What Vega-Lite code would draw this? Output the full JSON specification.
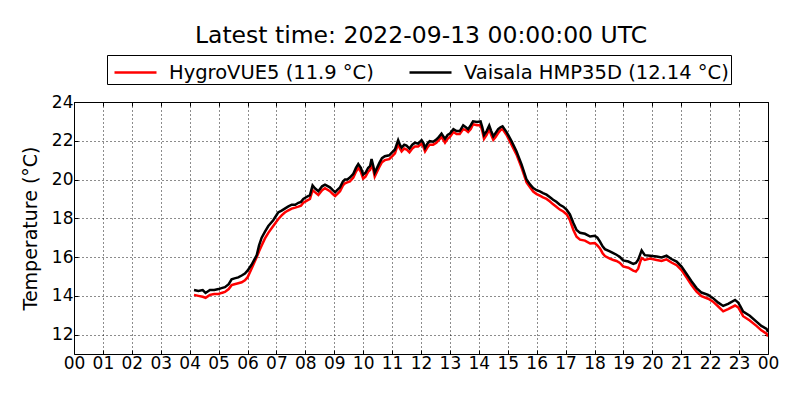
{
  "$schema": "https://vega.github.io/schema/vega-lite/v6.json",
  "autosize": {"type": "none"},
  "padding": {"left": 74, "top": 102, "right": 32, "bottom": 46},
  "width": 694,
  "height": 252,
  "title": {
    "text": "Latest time: 2022-09-13 00:00:00 UTC",
    "font": "DejaVu Sans",
    "fontSize": 23.5,
    "fontWeight": "normal",
    "color": "black",
    "anchor": "middle",
    "offset": 7
  },
  "data": {
    "values": [
      {"h": 4.15, "vaisala": 14.3, "hygro": 14.05},
      {"h": 4.3, "vaisala": 14.25, "hygro": 14.0},
      {"h": 4.45, "vaisala": 14.3, "hygro": 13.95},
      {"h": 4.55, "vaisala": 14.15, "hygro": 13.9},
      {"h": 4.7, "vaisala": 14.3, "hygro": 14.05},
      {"h": 4.85, "vaisala": 14.3, "hygro": 14.1},
      {"h": 5.0, "vaisala": 14.35, "hygro": 14.1},
      {"h": 5.1, "vaisala": 14.4, "hygro": 14.15},
      {"h": 5.22, "vaisala": 14.45, "hygro": 14.2},
      {"h": 5.35, "vaisala": 14.6, "hygro": 14.35},
      {"h": 5.45, "vaisala": 14.85, "hygro": 14.55},
      {"h": 5.55, "vaisala": 14.9, "hygro": 14.6},
      {"h": 5.68, "vaisala": 14.95, "hygro": 14.65},
      {"h": 5.8, "vaisala": 15.05, "hygro": 14.7},
      {"h": 5.91, "vaisala": 15.15, "hygro": 14.8},
      {"h": 6.0, "vaisala": 15.3, "hygro": 14.95},
      {"h": 6.14, "vaisala": 15.6, "hygro": 15.4},
      {"h": 6.32, "vaisala": 16.1, "hygro": 16.0},
      {"h": 6.4, "vaisala": 16.6, "hygro": 16.3},
      {"h": 6.49, "vaisala": 17.0, "hygro": 16.6},
      {"h": 6.6, "vaisala": 17.3, "hygro": 16.95},
      {"h": 6.72, "vaisala": 17.6, "hygro": 17.25},
      {"h": 6.89, "vaisala": 17.9, "hygro": 17.6},
      {"h": 7.06, "vaisala": 18.3, "hygro": 17.95},
      {"h": 7.18, "vaisala": 18.4, "hygro": 18.15},
      {"h": 7.29, "vaisala": 18.5, "hygro": 18.3},
      {"h": 7.4, "vaisala": 18.6, "hygro": 18.4},
      {"h": 7.53, "vaisala": 18.7, "hygro": 18.5},
      {"h": 7.65, "vaisala": 18.7, "hygro": 18.55},
      {"h": 7.76, "vaisala": 18.8, "hygro": 18.6},
      {"h": 7.85, "vaisala": 18.85, "hygro": 18.65},
      {"h": 7.93, "vaisala": 19.0, "hygro": 18.8},
      {"h": 8.04, "vaisala": 19.1, "hygro": 18.9},
      {"h": 8.16, "vaisala": 19.2, "hygro": 19.0},
      {"h": 8.25, "vaisala": 19.7, "hygro": 19.45},
      {"h": 8.33, "vaisala": 19.55, "hygro": 19.35},
      {"h": 8.45, "vaisala": 19.4, "hygro": 19.2},
      {"h": 8.58, "vaisala": 19.65, "hygro": 19.45},
      {"h": 8.68, "vaisala": 19.74, "hygro": 19.55},
      {"h": 8.85, "vaisala": 19.6, "hygro": 19.4},
      {"h": 8.95, "vaisala": 19.45, "hygro": 19.25},
      {"h": 9.03, "vaisala": 19.34, "hygro": 19.15},
      {"h": 9.1, "vaisala": 19.45, "hygro": 19.25},
      {"h": 9.2, "vaisala": 19.6, "hygro": 19.4},
      {"h": 9.3, "vaisala": 19.9, "hygro": 19.7},
      {"h": 9.37, "vaisala": 20.0, "hygro": 19.8},
      {"h": 9.45, "vaisala": 20.0, "hygro": 19.85},
      {"h": 9.54, "vaisala": 20.1, "hygro": 19.9},
      {"h": 9.66, "vaisala": 20.3, "hygro": 20.1},
      {"h": 9.75, "vaisala": 20.6, "hygro": 20.4},
      {"h": 9.83, "vaisala": 20.8, "hygro": 20.6},
      {"h": 9.92, "vaisala": 20.6, "hygro": 20.4},
      {"h": 10.0, "vaisala": 20.25, "hygro": 20.05},
      {"h": 10.08, "vaisala": 20.35, "hygro": 20.15},
      {"h": 10.17, "vaisala": 20.6, "hygro": 20.4},
      {"h": 10.24, "vaisala": 20.7, "hygro": 20.5},
      {"h": 10.29, "vaisala": 21.06, "hygro": 20.85},
      {"h": 10.35, "vaisala": 20.7, "hygro": 20.5},
      {"h": 10.4, "vaisala": 20.35, "hygro": 20.15},
      {"h": 10.48, "vaisala": 20.6, "hygro": 20.4},
      {"h": 10.56, "vaisala": 20.86, "hygro": 20.65},
      {"h": 10.65, "vaisala": 21.1, "hygro": 20.9},
      {"h": 10.75, "vaisala": 21.2, "hygro": 21.0},
      {"h": 10.9, "vaisala": 21.25, "hygro": 21.05},
      {"h": 11.0, "vaisala": 21.4, "hygro": 21.2},
      {"h": 11.1, "vaisala": 21.55, "hygro": 21.35},
      {"h": 11.21, "vaisala": 22.03, "hygro": 21.85},
      {"h": 11.27, "vaisala": 21.8, "hygro": 21.6},
      {"h": 11.33, "vaisala": 21.65, "hygro": 21.45},
      {"h": 11.42, "vaisala": 21.8, "hygro": 21.6},
      {"h": 11.5, "vaisala": 21.75, "hygro": 21.55},
      {"h": 11.6, "vaisala": 21.6, "hygro": 21.4},
      {"h": 11.7, "vaisala": 21.8, "hygro": 21.6},
      {"h": 11.79, "vaisala": 21.9, "hygro": 21.7},
      {"h": 11.9, "vaisala": 21.85, "hygro": 21.7},
      {"h": 12.02, "vaisala": 22.03, "hygro": 21.85},
      {"h": 12.08, "vaisala": 21.9, "hygro": 21.7},
      {"h": 12.14, "vaisala": 21.63, "hygro": 21.45},
      {"h": 12.22, "vaisala": 21.85, "hygro": 21.65},
      {"h": 12.3, "vaisala": 21.98, "hygro": 21.8},
      {"h": 12.42, "vaisala": 21.95, "hygro": 21.8},
      {"h": 12.53, "vaisala": 22.06, "hygro": 21.9},
      {"h": 12.62, "vaisala": 22.2, "hygro": 22.05},
      {"h": 12.71, "vaisala": 22.37, "hygro": 22.2},
      {"h": 12.83, "vaisala": 22.1, "hygro": 21.9},
      {"h": 12.92, "vaisala": 22.3, "hygro": 22.1},
      {"h": 13.0, "vaisala": 22.37, "hygro": 22.2},
      {"h": 13.12, "vaisala": 22.6, "hygro": 22.45},
      {"h": 13.23, "vaisala": 22.5, "hygro": 22.35},
      {"h": 13.34, "vaisala": 22.5, "hygro": 22.35},
      {"h": 13.46, "vaisala": 22.8, "hygro": 22.6},
      {"h": 13.55, "vaisala": 22.7, "hygro": 22.55},
      {"h": 13.63, "vaisala": 22.6, "hygro": 22.45},
      {"h": 13.72, "vaisala": 22.8, "hygro": 22.6},
      {"h": 13.8, "vaisala": 23.0, "hygro": 22.85},
      {"h": 13.94, "vaisala": 22.97, "hygro": 22.8},
      {"h": 14.06, "vaisala": 23.0, "hygro": 22.8},
      {"h": 14.12, "vaisala": 22.7, "hygro": 22.5},
      {"h": 14.18, "vaisala": 22.3, "hygro": 22.1},
      {"h": 14.27, "vaisala": 22.5, "hygro": 22.3},
      {"h": 14.36, "vaisala": 22.79, "hygro": 22.6},
      {"h": 14.43, "vaisala": 22.5, "hygro": 22.3},
      {"h": 14.5, "vaisala": 22.23, "hygro": 22.05},
      {"h": 14.58, "vaisala": 22.4, "hygro": 22.2},
      {"h": 14.67, "vaisala": 22.6, "hygro": 22.4},
      {"h": 14.75, "vaisala": 22.7, "hygro": 22.55},
      {"h": 14.82, "vaisala": 22.75, "hygro": 22.6},
      {"h": 14.96, "vaisala": 22.45, "hygro": 22.3},
      {"h": 15.13, "vaisala": 21.98, "hygro": 21.8},
      {"h": 15.3, "vaisala": 21.46, "hygro": 21.3},
      {"h": 15.48, "vaisala": 20.77, "hygro": 20.6},
      {"h": 15.65, "vaisala": 20.0, "hygro": 19.85},
      {"h": 15.77, "vaisala": 19.75, "hygro": 19.6},
      {"h": 15.88, "vaisala": 19.56, "hygro": 19.38},
      {"h": 16.0, "vaisala": 19.45, "hygro": 19.25},
      {"h": 16.11, "vaisala": 19.39, "hygro": 19.17},
      {"h": 16.22, "vaisala": 19.3, "hygro": 19.08},
      {"h": 16.34, "vaisala": 19.22, "hygro": 19.0},
      {"h": 16.45, "vaisala": 19.1, "hygro": 18.88},
      {"h": 16.57, "vaisala": 18.96, "hygro": 18.72},
      {"h": 16.68, "vaisala": 18.85, "hygro": 18.6},
      {"h": 16.8, "vaisala": 18.7, "hygro": 18.45},
      {"h": 16.92, "vaisala": 18.6, "hygro": 18.35},
      {"h": 17.04, "vaisala": 18.44, "hygro": 18.2},
      {"h": 17.15, "vaisala": 18.2, "hygro": 17.9},
      {"h": 17.27, "vaisala": 17.76, "hygro": 17.4},
      {"h": 17.38, "vaisala": 17.4, "hygro": 17.05},
      {"h": 17.5, "vaisala": 17.25, "hygro": 16.9},
      {"h": 17.67, "vaisala": 17.2, "hygro": 16.85},
      {"h": 17.85, "vaisala": 17.06, "hygro": 16.7},
      {"h": 18.01, "vaisala": 17.1, "hygro": 16.72},
      {"h": 18.1, "vaisala": 17.0, "hygro": 16.6},
      {"h": 18.19, "vaisala": 16.8, "hygro": 16.45},
      {"h": 18.28, "vaisala": 16.55, "hygro": 16.2},
      {"h": 18.36, "vaisala": 16.41, "hygro": 16.05},
      {"h": 18.53, "vaisala": 16.29, "hygro": 15.92},
      {"h": 18.65, "vaisala": 16.2, "hygro": 15.85},
      {"h": 18.76, "vaisala": 16.12, "hygro": 15.8},
      {"h": 18.88, "vaisala": 16.0, "hygro": 15.7},
      {"h": 18.99, "vaisala": 15.83, "hygro": 15.52},
      {"h": 19.17, "vaisala": 15.77, "hygro": 15.45},
      {"h": 19.34, "vaisala": 15.65, "hygro": 15.3},
      {"h": 19.43, "vaisala": 15.7, "hygro": 15.25},
      {"h": 19.51, "vaisala": 15.86, "hygro": 15.4},
      {"h": 19.57, "vaisala": 16.1, "hygro": 15.7},
      {"h": 19.63, "vaisala": 16.34, "hygro": 15.95},
      {"h": 19.74, "vaisala": 16.1, "hygro": 15.85},
      {"h": 19.92, "vaisala": 16.07, "hygro": 15.92},
      {"h": 20.15, "vaisala": 16.03, "hygro": 15.85},
      {"h": 20.32, "vaisala": 15.98, "hygro": 15.8},
      {"h": 20.49, "vaisala": 16.07, "hygro": 15.88},
      {"h": 20.66, "vaisala": 15.9, "hygro": 15.72},
      {"h": 20.84, "vaisala": 15.77, "hygro": 15.58},
      {"h": 21.01, "vaisala": 15.51, "hygro": 15.33},
      {"h": 21.18, "vaisala": 15.14, "hygro": 14.95},
      {"h": 21.36, "vaisala": 14.74, "hygro": 14.55},
      {"h": 21.53, "vaisala": 14.4, "hygro": 14.22},
      {"h": 21.7, "vaisala": 14.17, "hygro": 13.98},
      {"h": 21.93, "vaisala": 14.05, "hygro": 13.85},
      {"h": 22.1, "vaisala": 13.88, "hygro": 13.7},
      {"h": 22.28, "vaisala": 13.65, "hygro": 13.45},
      {"h": 22.45, "vaisala": 13.48, "hygro": 13.2},
      {"h": 22.62, "vaisala": 13.59, "hygro": 13.32},
      {"h": 22.86, "vaisala": 13.79, "hygro": 13.5},
      {"h": 22.97, "vaisala": 13.65, "hygro": 13.4},
      {"h": 23.05, "vaisala": 13.45, "hygro": 13.2},
      {"h": 23.14, "vaisala": 13.19, "hygro": 12.95},
      {"h": 23.37, "vaisala": 12.97, "hygro": 12.73},
      {"h": 23.6, "vaisala": 12.67, "hygro": 12.45},
      {"h": 23.77, "vaisala": 12.45, "hygro": 12.22},
      {"h": 23.95, "vaisala": 12.3, "hygro": 12.05},
      {"h": 24.0, "vaisala": 12.14, "hygro": 11.9}
    ]
  },
  "transform": [{"fold": ["hygro", "vaisala"], "as": ["sensor", "temp"]}],
  "layer": [
    {
      "mark": {"type": "line", "strokeWidth": 2.5, "clip": true},
      "encoding": {
        "x": {
          "field": "h",
          "type": "quantitative",
          "scale": {"domain": [0, 24], "nice": false, "zero": false},
          "axis": {
            "orient": "bottom",
            "title": null,
            "values": [0, 1, 2, 3, 4, 5, 6, 7, 8, 9, 10, 11, 12, 13, 14, 15, 16, 17, 18, 19, 20, 21, 22, 23, 24],
            "labelExpr": "datum.value == 24 ? '00' : (datum.value < 10 ? '0' + datum.value : '' + datum.value)",
            "labelPadding": 5,
            "labelFlush": false,
            "labelOverlap": false
          }
        },
        "y": {
          "field": "temp",
          "type": "quantitative",
          "scale": {"domain": [11, 24], "nice": false, "zero": false},
          "axis": {
            "orient": "left",
            "title": "Temperature (°C)",
            "titleFontSize": 19,
            "values": [12, 14, 16, 18, 20, 22, 24],
            "labelPadding": 5,
            "titlePadding": 11
          }
        },
        "color": {
          "field": "sensor",
          "type": "nominal",
          "scale": {"domain": ["hygro", "vaisala"], "range": ["#ff0000", "#000000"]},
          "legend": {
            "orient": "none",
            "legendX": 33,
            "legendY": -47,
            "direction": "horizontal",
            "title": null,
            "symbolType": "M-1.5,0H1.5",
            "symbolSize": 784,
            "symbolOffset": 11,
            "symbolStrokeWidth": 2.5,
            "labelExpr": "datum.label == 'hygro' ? 'HygroVUE5 (11.9 °C)' : 'Vaisala HMP35D (12.14 °C)'",
            "labelFont": "DejaVu Sans",
            "labelFontSize": 19.5,
            "labelColor": "black",
            "labelOffset": 18,
            "labelLimit": 400,
            "columnPadding": 30,
            "padding": 2,
            "strokeColor": "black",
            "fillColor": "white"
          }
        }
      }
    },
    {
      "mark": {"type": "line", "opacity": 0},
      "encoding": {
        "x": {
          "field": "h",
          "type": "quantitative",
          "scale": {"domain": [0, 24], "nice": false, "zero": false},
          "axis": {
            "orient": "top",
            "title": null,
            "labels": false,
            "grid": false,
            "values": [0, 1, 2, 3, 4, 5, 6, 7, 8, 9, 10, 11, 12, 13, 14, 15, 16, 17, 18, 19, 20, 21, 22, 23, 24]
          }
        },
        "y": {
          "field": "temp",
          "type": "quantitative",
          "scale": {"domain": [11, 24], "nice": false, "zero": false},
          "axis": {
            "orient": "right",
            "title": null,
            "labels": false,
            "grid": false,
            "values": [12, 14, 16, 18, 20, 22, 24]
          }
        },
        "detail": {"field": "sensor", "type": "nominal"}
      }
    }
  ],
  "resolve": {"axis": {"x": "independent", "y": "independent"}},
  "config": {
    "font": "DejaVu Sans",
    "view": {"stroke": "black", "strokeWidth": 1},
    "axis": {
      "domain": false,
      "tickSize": -4,
      "tickColor": "black",
      "tickWidth": 1,
      "labelFont": "DejaVu Sans",
      "labelFontSize": 17,
      "labelColor": "black",
      "titleFont": "DejaVu Sans",
      "titleFontSize": 19,
      "titleFontWeight": "normal",
      "titleColor": "black",
      "grid": true,
      "gridColor": "black",
      "gridDash": [1, 3],
      "gridWidth": 1,
      "gridOpacity": 0.9
    }
  }
}
